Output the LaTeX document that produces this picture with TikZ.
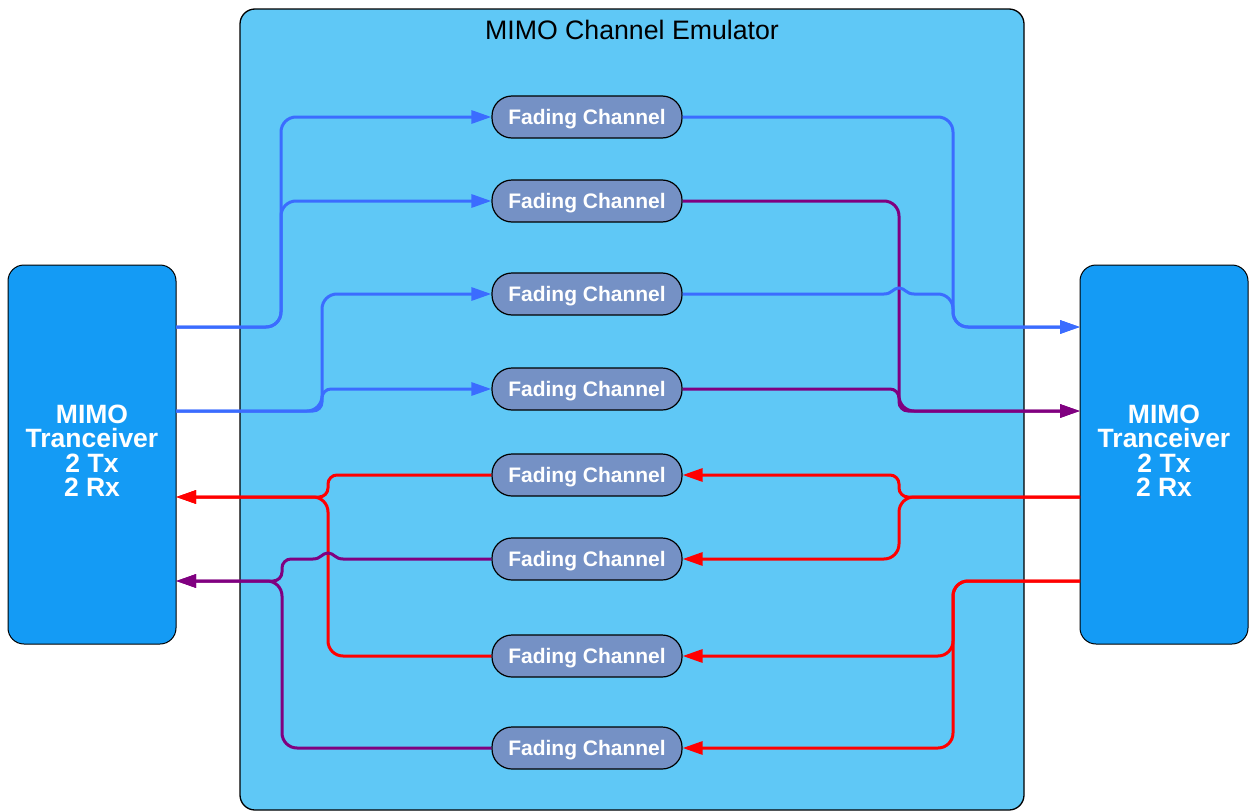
\documentclass[tikz,border=0pt]{standalone}
\usepackage{fontspec}
\setmainfont{Liberation Sans}
\usetikzlibrary{arrows.meta}
\definecolor{emu}{HTML}{5FC8F6}
\definecolor{trx}{HTML}{149BF5}
\definecolor{fch}{HTML}{7591C5}
\definecolor{lblue}{HTML}{3B6CFF}
\definecolor{lpurp}{HTML}{800080}
\definecolor{lred}{HTML}{FF0000}
\begin{document}
\begin{tikzpicture}[x=1pt,y=-1pt,
  emubox/.style={draw=black, line width=1.3pt, fill=emu, rounded corners=15pt},
  trxbox/.style={draw=black, line width=1pt, fill=trx, rounded corners=16pt,
    minimum width=168pt, minimum height=379pt, inner sep=0pt, align=center,
    text=white, font=\fontsize{26.5}{24.5}\selectfont\bfseries},
  fcbox/.style={draw=black, line width=1.2pt, fill=fch, rounded corners=20pt,
    minimum width=190pt, minimum height=42pt, inner sep=0pt,
    text height=15pt, text depth=0pt,
    text=white, font=\fontsize{21}{22}\selectfont\bfseries},
  wire/.style={line width=3pt, rounded corners=15pt},
  swire/.style={line width=3pt, rounded corners=9pt},
  arrowend/.style={-{Triangle[length=20pt,width=13pt]}},
  bw/.style={draw=lblue}, pw/.style={draw=lpurp}, rw/.style={draw=lred}]
\useasboundingbox (0,0) rectangle (1251,811);
% emulator
\draw[emubox] (240,9) rectangle (1024,810);
\node[font=\fontsize{26.7}{28}\selectfont] (title) at (632,30) {MIMO Channel Emulator};
% transceivers
\node[trxbox] (L) at (92,454.5) {MIMO\\Tranceiver\\2 Tx\\2 Rx\rule[-8pt]{0pt}{8pt}};
\node[trxbox] (R) at (1164,454.5) {MIMO\\Tranceiver\\2 Tx\\2 Rx\rule[-8pt]{0pt}{8pt}};
% fading channels
\node[fcbox] (f1) at (587,117) {Fading Channel};
\node[fcbox] (f2) at (587,201) {Fading Channel};
\node[fcbox] (f3) at (587,294) {Fading Channel};
\node[fcbox] (f4) at (587,389) {Fading Channel};
\node[fcbox] (f5) at (587,475) {Fading Channel};
\node[fcbox] (f6) at (587,559) {Fading Channel};
\node[fcbox] (f7) at (587,656) {Fading Channel};
\node[fcbox] (f8) at (587,748) {Fading Channel};
% ports
\coordinate (Lo1) at (176,327);
\coordinate (Lo2) at (176,411);
\coordinate (Li1) at (176,497);
\coordinate (Li2) at (176,581);
\coordinate (Ri1) at (1080,327);
\coordinate (Ri2) at (1080,411);
\coordinate (Ro1) at (1080,497);
\coordinate (Ro2) at (1080,581);
% left blue (Tx)
\draw[wire,bw,arrowend] (Lo1) -- (281,327) -- (281,117) -- (f1.west);
\draw[wire,bw,arrowend] (Lo1) -- (281,327) -- (281,201) -- (f2.west);
\draw[wire,bw,arrowend] (Lo2) -- (322,411) -- (322,294) -- (f3.west);
\draw[swire,bw,arrowend] (Lo2) -- (322,411) -- (322,389) -- (f4.west);
% right purple
\draw[wire,pw,arrowend] (f2.east) -- (899,201) -- (899,411) -- (Ri2);
\draw[swire,pw,arrowend] (f4.east) -- (899,389) -- (899,411) -- (Ri2);
% right blue
\draw[wire,bw,arrowend] (f1.east) -- (953,117) -- (953,327) -- (Ri1);
\draw[line width=3pt,bw,arrowend] (f3.east) -- (884,294)
  .. controls (892,294) and (893,288) .. (899,288)
  .. controls (905,288) and (906,294) .. (914,294)
  [rounded corners=15pt] -- (953,294) -- (953,327) -- (Ri1);
% right red (Rx)
\draw[swire,rw,arrowend] (Ro1) -- (899,497) -- (899,475) -- (f5.east);
\draw[wire,rw,arrowend] (Ro1) -- (899,497) -- (899,559) -- (f6.east);
\draw[wire,rw,arrowend] (Ro2) -- (953,581) -- (953,656) -- (f7.east);
\draw[wire,rw,arrowend] (Ro2) -- (953,581) -- (953,748) -- (f8.east);
% left red
\draw[swire,rw,arrowend] (f5.west) -- (328,475) -- (328,497) -- (Li1);
\draw[wire,rw,arrowend] (f7.west) -- (328,656) -- (328,497) -- (Li1);
% left purple
\draw[line width=3pt,pw,arrowend] (f6.west) -- (343,559)
  .. controls (335,559) and (334,553) .. (328,553)
  .. controls (322,553) and (321,559) .. (313,559)
  [rounded corners=9pt] -- (282,559) -- (282,581) -- (Li2);
\draw[wire,pw,arrowend] (f8.west) -- (282,748) -- (282,581) -- (Li2);
\end{tikzpicture}
\end{document}
